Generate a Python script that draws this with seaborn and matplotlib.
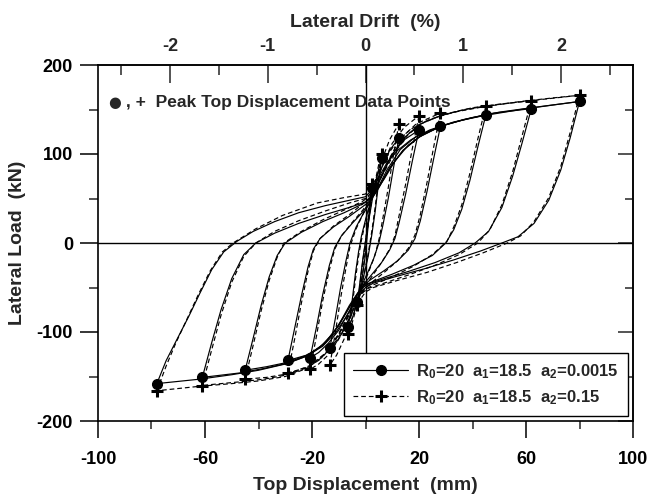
import matplotlib
matplotlib.use("Agg")
import matplotlib.pyplot as plt
from matplotlib.lines import Line2D
from matplotlib.ticker import FixedLocator, NullFormatter
import pandas as pd
import seaborn as sns

# ---------------- data ----------------
# solid series  (R0=20 a1=18.5 a2=0.0015): branches as (displacement mm, load kN)
s_r0 = [(0, 0), (1.2, 30), (2.5, 62)]
s_u1 = [(2.5, 62), (1.5, 35), (0.7, 10), (0, -12), (-0.8, -30), (-1.8, -48), (-3, -66)]
s_r1 = [(-3, -66), (-2, -42), (-1, -18), (0, 2), (1.2, 25), (2.5, 48), (3.8, 68), (5, 84), (6, 95)]
s_u2 = [(6, 95), (4.8, 65), (3.6, 35), (2.4, 10), (1, -15), (-0.5, -35), (-2, -55), (-3.6, -72), (-5, -85), (-6.4, -94)]
s_r2 = [(-6.4, -94), (-5, -65), (-3.8, -35), (-2.6, -10), (-1.5, 8), (0, 26), (1.5, 42), (3.5, 62), (6, 84), (9, 104), (12.5, 118)]
s_u3 = [(12.5, 118), (10.5, 85), (8.5, 50), (6.5, 20), (5, 0), (3, -18), (1, -32), (-1, -45), (-3, -62), (-5.5, -82), (-8.5, -100), (-11, -112), (-13.3, -118)]
s_r3 = [(-13.3, -118), (-11.3, -85), (-9.3, -50), (-7.3, -20), (-5.8, 0), (-3.5, 18), (-1, 32), (1, 42), (3, 55), (6, 76), (10, 100), (14.5, 116), (20, 127)]
s_u4 = [(20, 127), (17.5, 92), (15, 55), (12.5, 22), (11, 5), (9, -8), (6, -22), (3, -33), (0, -44), (-3, -58), (-6, -76), (-10, -98), (-14, -113), (-17.5, -123), (-20.7, -129)]
s_r4 = [(-20.7, -129), (-18.3, -94), (-16, -58), (-13.5, -25), (-11.5, -5), (-9, 8), (-5, 22), (-1, 35), (1, 43), (4, 58), (8, 82), (13, 105), (19, 120), (28, 131)]
s_u5 = [(28, 131), (25.5, 95), (23, 58), (20.5, 25), (18.5, 5), (16, -8), (12, -20), (7, -31), (2, -41), (-1, -48), (-4, -62), (-8, -82), (-12, -101), (-17, -117), (-22, -126), (-29, -132)]
s_r5 = [(-29, -132), (-26.5, -96), (-24, -60), (-21.5, -27), (-19.5, -7), (-17, 5), (-12, 18), (-6, 30), (-1, 41), (2, 48), (5, 62), (9, 84), (14, 104), (20, 119), (28, 131), (36, 138), (45, 144)]
s_u6 = [(45, 144), (42, 108), (39, 70), (36, 38), (33, 15), (30, 0), (25, -14), (18, -25), (10, -35), (3, -43), (0, -47), (-3, -57), (-6, -72), (-10, -93), (-15, -112), (-21, -125), (-29, -134), (-37, -139), (-45, -143)]
s_r6 = [(-45, -143), (-42, -107), (-39, -70), (-36, -38), (-33, -14), (-30, 0), (-24, 12), (-16, 24), (-8, 34), (-1, 44), (2, 50), (5, 63), (9, 84), (14, 104), (20, 119), (28, 131), (37, 139), (48, 146), (62, 151)]
s_u7 = [(62, 151), (58.5, 112), (55, 75), (51, 40), (46, 13), (41, 0), (35, -11), (26, -22), (16, -32), (7, -40), (1, -46), (-2, -52), (-6, -70), (-10, -92), (-15, -112), (-21, -126), (-29, -135), (-38, -141), (-47, -146), (-61, -151)]
s_r7 = [(-61, -151), (-57.5, -112), (-54, -75), (-50, -40), (-45.5, -13), (-41, 0), (-34, 11), (-25, 22), (-15, 32), (-6, 40), (0, 46), (3, 54), (7, 72), (11, 92), (16, 110), (22, 123), (30, 133), (40, 141), (50, 147), (62, 152), (80, 159)]
s_u8 = [(80, 159), (76.5, 118), (73, 82), (68.5, 48), (63, 22), (57, 7), (51, 0), (43, -9), (33, -19), (22, -29), (11, -38), (3, -45), (0, -50), (-3, -62), (-7, -82), (-11, -100), (-16, -116), (-22, -127), (-30, -136), (-40, -143), (-50, -148), (-62, -153), (-78, -158)]
s_r8 = [(-78, -158), (-74.5, -132), (-70.6, -109), (-66, -82), (-62, -57), (-57.5, -30), (-53, -10), (-48, 2), (-42, 13), (-34, 24), (-25, 34), (-15, 42), (-6, 48), (0, 52), (2.5, 60), (5, 74), (8, 90), (12, 104), (17, 116), (24, 127), (33, 136), (44, 143), (58, 150), (70, 155), (80, 159)]

# dashed series (R0=20 a1=18.5 a2=0.15)
d_r0 = [(0, 0), (1.2, 32), (2.5, 66)]
d_u1 = [(2.5, 66), (1.5, 38), (0.6, 12), (-0.2, -12), (-1, -32), (-2, -52), (-3, -70)]
d_r1 = [(-3, -70), (-2, -45), (-1, -20), (0, 2), (1.2, 27), (2.5, 51), (3.8, 72), (5, 89), (6, 100)]
d_u2 = [(6, 100), (4.8, 70), (3.6, 40), (2.4, 14), (1, -12), (-0.6, -36), (-2.2, -58), (-3.8, -77), (-5.2, -92), (-6.4, -102)]
d_r2 = [(-6.4, -102), (-5, -72), (-3.8, -42), (-2.6, -15), (-1.4, 5), (0, 24), (1.5, 43), (3.5, 66), (6, 92), (9, 116), (12.5, 134)]
d_u3 = [(12.5, 134), (10.5, 100), (8.5, 62), (6.5, 28), (5.2, 6), (3.5, -14), (1.5, -30), (-0.5, -45), (-2.5, -62), (-5, -85), (-8, -108), (-10.8, -126), (-13.3, -137)]
d_r3 = [(-13.3, -137), (-11.3, -101), (-9.3, -62), (-7.3, -28), (-5.8, -4), (-3.5, 16), (-1, 32), (1, 45), (3, 60), (6, 85), (10, 112), (14.5, 130), (20, 143)]
d_u4 = [(20, 143), (17.5, 106), (15, 66), (12.5, 30), (11, 8), (9, -7), (6, -22), (3, -35), (0, -48), (-3, -64), (-6, -84), (-10, -108), (-14, -126), (-17.5, -136), (-20.7, -142)]
d_r4 = [(-20.7, -142), (-18.3, -104), (-16, -65), (-13.5, -30), (-11.5, -7), (-9, 8), (-5, 23), (-1, 37), (1, 46), (4, 63), (8, 90), (13, 117), (19, 134), (28, 146)]
d_u5 = [(28, 146), (25.5, 108), (23, 68), (20.5, 32), (18.5, 9), (16, -6), (12, -20), (7, -33), (2, -45), (-1, -53), (-4, -68), (-8, -92), (-12, -113), (-17, -131), (-22, -140), (-29, -146)]
d_r5 = [(-29, -146), (-26.5, -108), (-24, -68), (-21.5, -32), (-19.5, -9), (-17, 5), (-12, 19), (-6, 32), (-1, 44), (2, 52), (5, 68), (9, 94), (14, 117), (20, 133), (28, 143), (36, 149), (45, 154)]
d_u6 = [(45, 154), (42, 117), (39, 78), (36, 43), (33, 18), (30.5, 2), (25, -13), (18, -26), (10, -38), (3, -47), (0, -52), (-3, -62), (-6, -80), (-10, -103), (-15, -124), (-21, -138), (-29, -147), (-37, -151), (-45, -153)]
d_r6 = [(-45, -153), (-42, -115), (-39, -76), (-36, -42), (-33, -16), (-30.5, 0), (-24, 13), (-16, 26), (-8, 37), (-1, 47), (2, 54), (5, 68), (9, 94), (14, 117), (20, 133), (28, 143), (37, 150), (48, 155), (62, 160)]
d_u7 = [(62, 160), (58.5, 120), (55, 80), (51, 43), (46.5, 15), (42, 0), (35, -13), (26, -25), (16, -36), (7, -45), (1, -51), (-2, -58), (-6, -78), (-10, -102), (-15, -124), (-21, -139), (-29, -148), (-38, -153), (-47, -156), (-61, -160)]
d_r7 = [(-61, -160), (-57.5, -120), (-54, -81), (-50, -44), (-45.5, -15), (-41, 0), (-34, 13), (-25, 25), (-15, 36), (-6, 45), (0, 50), (3, 59), (7, 80), (11, 102), (16, 122), (22, 136), (30, 145), (40, 152), (50, 156), (62, 160), (80, 166)]
d_u8 = [(80, 166), (76.5, 124), (73, 86), (68.5, 51), (63, 24), (58, 8), (53, 0), (44, -11), (34, -22), (23, -33), (12, -42), (3, -50), (0, -55), (-3, -68), (-7, -90), (-11, -110), (-16, -128), (-22, -141), (-30, -150), (-40, -155), (-50, -158), (-62, -161), (-78, -166)]
d_r8 = [(-78, -166), (-74.5, -138), (-71, -113), (-66.5, -84), (-62.5, -58), (-58, -31), (-53.5, -10), (-49.5, 0), (-41, 16), (-31, 31), (-18, 45), (-8, 51), (0, 55), (2.5, 64), (5, 80), (8, 98), (12, 115), (17, 128), (24, 139), (33, 147), (44, 153), (58, 159), (70, 163), (80, 166)]

# peak top displacement data points
solid_peak_x = [2.5, 6, 12.5, 20, 28, 45, 62, 80, -3, -6.4, -13.3, -20.7, -29, -45, -61, -78]
solid_peak_y = [62, 95, 118, 127, 131, 144, 151, 159, -66, -94, -118, -129, -132, -143, -151, -158]
dash_peak_x = [2.5, 6, 12.5, 20, 28, 45, 62, 80, -3, -6.4, -13.3, -20.7, -29, -45, -61, -78]
dash_peak_y = [66, 100, 134, 143, 146, 154, 160, 166, -70, -102, -137, -142, -146, -153, -161, -166]

x_major = [-100, -60, -20, 20, 60, 100]
x_minor = [-80, -40, 0, 40, 80]
y_major = [-200, -100, 0, 100, 200]
y_minor = [-150, -50, 50, 150]
drift_major = [-2, -1, 0, 1, 2]
drift_minor = [-2.5, -1.5, -0.5, 0.5, 1.5, 2.5]
MM_PER_PERCENT = 36.55

legend_solid = r"R$_0$=20  a$_1$=18.5  a$_2$=0.0015"
legend_dash = r"R$_0$=20  a$_1$=18.5  a$_2$=0.15"

# ---------------- style ----------------
sns.set_style("white")
plt.rcParams["font.family"] = ["Liberation Sans", "DejaVu Sans"]
plt.rcParams["font.weight"] = "bold"
plt.rcParams["axes.unicode_minus"] = False
plt.rcParams["mathtext.fontset"] = "custom"
plt.rcParams["mathtext.rm"] = "Liberation Sans:bold"
plt.rcParams["mathtext.it"] = "Liberation Sans:bold"
plt.rcParams["mathtext.bf"] = "Liberation Sans:bold"
plt.rcParams["mathtext.default"] = "rm"

fig = plt.figure(figsize=(6.49, 5.01), dpi=100)
ax = fig.add_axes([98 / 649, 1 - 421 / 501, 535 / 649, 356 / 501])

def draw(branches, style):
    for br in branches:
        df = pd.DataFrame(br, columns=["x", "y"])
        sns.lineplot(data=df, x="x", y="y", sort=False, estimator=None, ax=ax,
                     color="black", linewidth=0.85, linestyle=style)

solid = [s_r0, s_u1, s_r1, s_u2, s_r2, s_u3, s_r3, s_u4, s_r4, s_u5, s_r5, s_u6, s_r6, s_u7, s_r7, s_u8, s_r8]
dashed = [d_r0, d_u1, d_r1, d_u2, d_r2, d_u3, d_r3, d_u4, d_r4, d_u5, d_r5, d_u6, d_r6, d_u7, d_r7, d_u8, d_r8]
draw(dashed, (0, (4, 2.5)))
draw(solid, "-")

ax.plot(dash_peak_x, dash_peak_y, linestyle="none", marker="+", markersize=9,
        markeredgewidth=2.2, color="black", zorder=5)
ax.plot(solid_peak_x, solid_peak_y, linestyle="none", marker="o", markersize=7,
        color="black", zorder=6)

ax.axhline(0, color="black", linewidth=1.0, zorder=1)
ax.axvline(0, color="black", linewidth=1.0, zorder=1)

ax.set_xlim(-100, 100)
ax.set_ylim(-200, 200)
for sp in ax.spines.values():
    sp.set_color("black")
    sp.set_linewidth(1.2)

ax.xaxis.set_major_locator(FixedLocator(x_major))
ax.xaxis.set_minor_locator(FixedLocator(x_minor))
ax.yaxis.set_major_locator(FixedLocator(y_major))
ax.yaxis.set_minor_locator(FixedLocator(y_minor))
ax.tick_params(axis="x", which="major", direction="out", length=12.5, width=1.1, pad=9,
               labelsize=13, bottom=True, top=False, colors="black")
ax.tick_params(axis="x", which="minor", direction="out", length=6, width=1.1, bottom=True, top=False)
ax.tick_params(axis="y", which="major", direction="out", length=13, width=1.1, pad=5,
               labelsize=13, left=True, right=False, colors="black")
ax.tick_params(axis="y", which="minor", direction="out", length=6.5, width=1.1, left=True, right=False)
for lab in ax.get_xticklabels() + ax.get_yticklabels():
    lab.set_fontweight("bold")

ax.set_xlabel("Top Displacement  (mm)", fontsize=14, fontweight="bold")
ax.set_ylabel("Lateral Load  (kN)", fontsize=14, fontweight="bold")
ax.xaxis.set_label_coords(0.5, -0.158)
ax.yaxis.set_label_coords(-0.134, 0.5)

top = ax.secondary_xaxis("top", functions=(lambda v: v / MM_PER_PERCENT, lambda v: v * MM_PER_PERCENT))
top.xaxis.set_major_locator(FixedLocator(drift_major))
top.xaxis.set_minor_locator(FixedLocator(drift_minor))
top.tick_params(axis="x", which="major", direction="in", length=13, width=1.1, pad=7, labelsize=13)
top.tick_params(axis="x", which="minor", direction="in", length=7, width=1.1)
top.set_xlabel("Lateral Drift  (%)", fontsize=14, fontweight="bold", labelpad=8)
top.spines["top"].set_linewidth(1.2)
for lab in top.get_xticklabels():
    lab.set_fontweight("bold")

right = ax.secondary_yaxis("right", functions=(lambda v: v, lambda v: v))
right.yaxis.set_major_locator(FixedLocator(y_major))
right.yaxis.set_minor_locator(FixedLocator(y_minor))
right.tick_params(axis="y", which="major", direction="in", length=11, width=1.1, labelright=False)
right.tick_params(axis="y", which="minor", direction="in", length=6, width=1.1)
right.yaxis.set_major_formatter(NullFormatter())
right.spines["right"].set_linewidth(1.2)

ax.text(0.031, 0.895, "\u25CF", transform=ax.transAxes, ha="center", va="center",
        fontsize=10.5, family=["DejaVu Sans"])
ax.text(0.043, 0.895, " , +  Peak Top Displacement Data Points", transform=ax.transAxes,
        ha="left", va="center", fontsize=12.5, fontweight="bold")

handles = [
    Line2D([], [], color="black", linewidth=0.85, marker="o", markersize=7),
    Line2D([], [], color="black", linewidth=0.85, linestyle=(0, (4, 2.5)), marker="+",
           markersize=9, markeredgewidth=2.2),
]
leg = ax.legend(handles, [legend_solid, legend_dash], loc="lower right",
                bbox_to_anchor=(0.991, 0.014), borderaxespad=0, frameon=True, fancybox=False,
                edgecolor="black", framealpha=1, prop={"size": 12, "weight": "bold"},
                handlelength=3.3, handletextpad=0.5, borderpad=0.55, labelspacing=0.45)
leg.get_frame().set_linewidth(1.0)

fig.savefig("out.png", dpi=100)
